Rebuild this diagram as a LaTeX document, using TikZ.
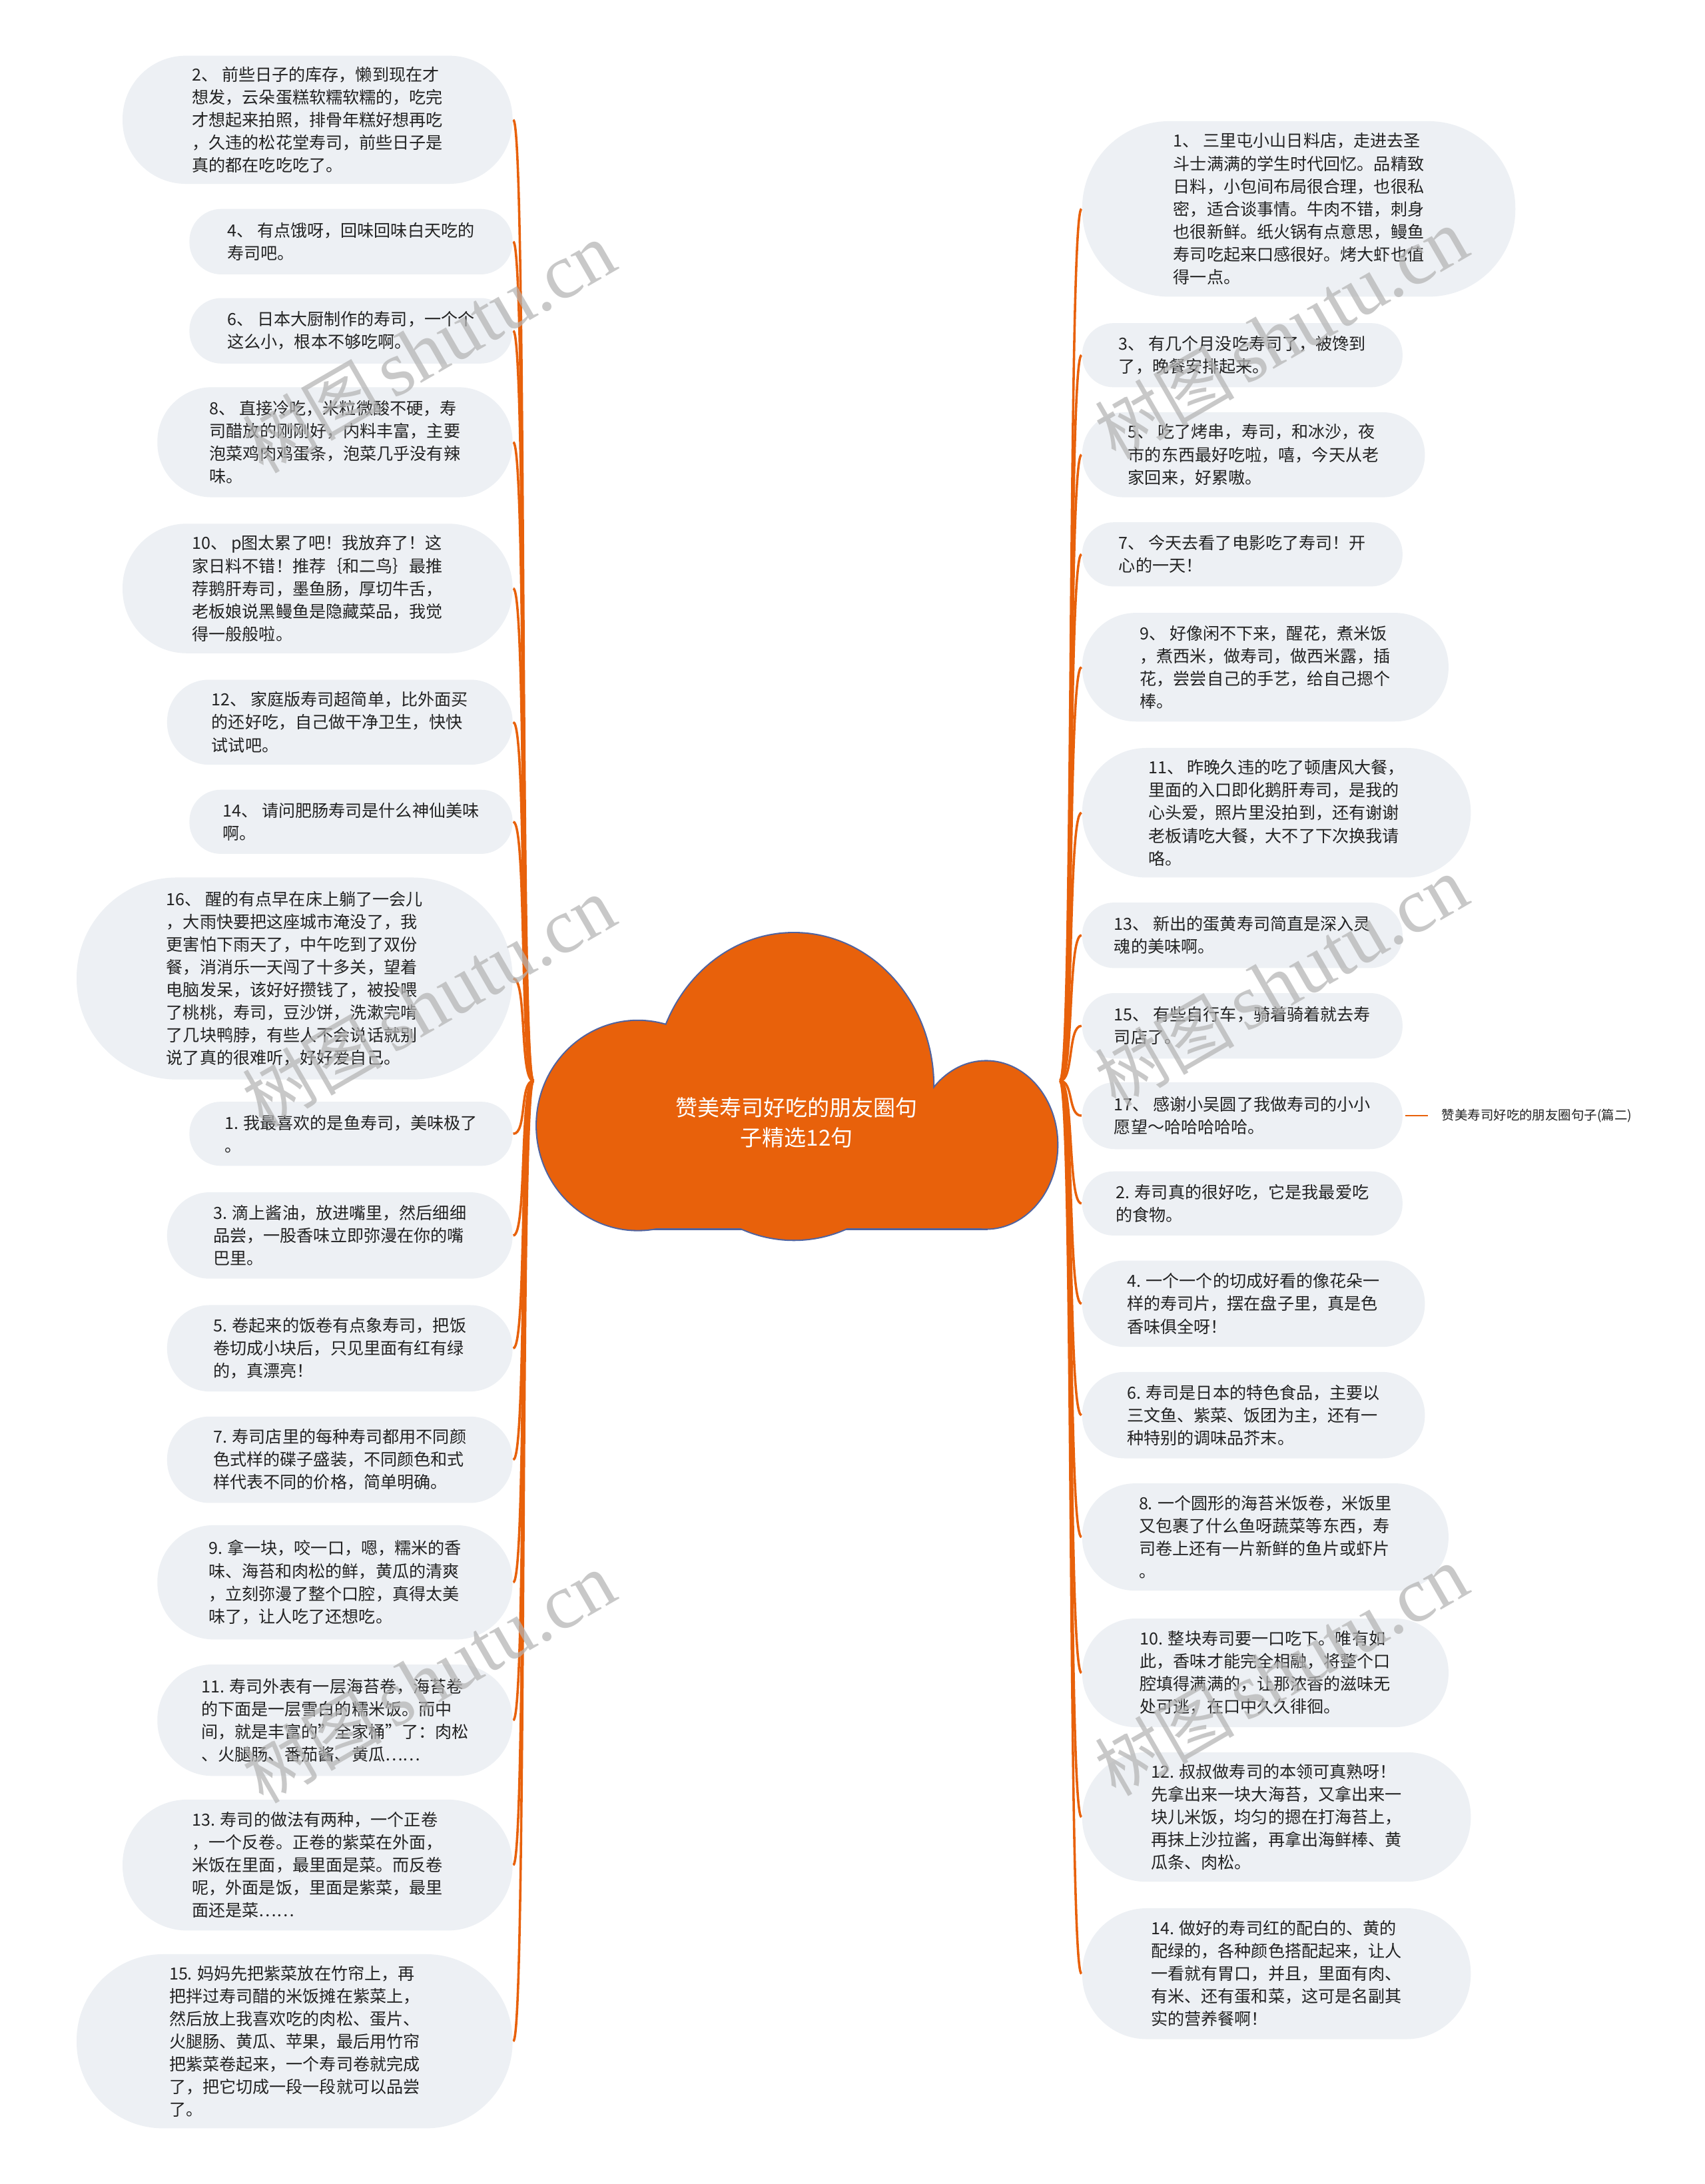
\documentclass[tikz,border=0pt]{standalone}
\usepackage{fontspec}
\setmainfont{Noto Sans CJK SC}
\newfontfamily\wmlatin{Liberation Serif}
\usetikzlibrary{calc}
\definecolor{org}{HTML}{E8610B}
\definecolor{cloudline}{HTML}{4F63A0}
\definecolor{bubfill}{HTML}{EDF0F4}
\definecolor{txtc}{HTML}{222222}
\definecolor{wmc}{HTML}{B4B4B4}
\newcommand\bubble[5]{\node[bub, minimum width=#3pt, minimum height=#4pt, rounded corners=#5pt] (#1) at #2}
\begin{document}
\begin{tikzpicture}[x=1pt,y=-1pt,
  bub/.style={fill=bubfill, inner sep=0pt, align=left, text=txtc, font=\fontsize{12}{16.3}\selectfont},
  conn/.style={draw=org, line width=1.7pt},
  wm/.style={text=wmc, opacity=0.72, rotate=30, inner sep=0pt}]
\useasboundingbox (0,0) rectangle (1224,1568);
\fill[white] (0,0) rectangle (1224,1568);
% ---------- cloud ----------
\draw[cloudline, line width=2pt] (458,808) ellipse [x radius=72.5, y radius=75];
\draw[cloudline, line width=2pt] (570,780) ellipse [x radius=100, y radius=110];
\draw[cloudline, line width=2pt] (708,822) ellipse [x radius=51, y radius=60];
\draw[cloudline, line width=2pt] (458,830) rectangle (708,882);
\fill[org] (458,808) ellipse [x radius=72.5, y radius=75];
\fill[org] (570,780) ellipse [x radius=100, y radius=110];
\fill[org] (708,822) ellipse [x radius=51, y radius=60];
\fill[org] (458,830) rectangle (708,882);
\node[inner sep=0pt, minimum width=374pt, minimum height=212pt] (cloud) at (572,776) {};
\node[align=center, text=white, font=\fontsize{15.8}{21.6}\selectfont] (title) at (572,806) {赞美寿司好吃的朋友圈句\\子精选12句};
\coordinate (rootL) at (383,776);
\coordinate (rootR) at (761,776);
% ---------- connectors ----------
\foreach \n/\cy in {L1/86,L2/173.5,L3/237.5,L4/317.5,L5/422.5,L6/518.5,L7/590,L8/702.5,L9/814,L10/887,L11/968,L12/1048,L13/1136,L14/1235,L15/1339,L16/1465.5}{
  \coordinate (\n e) at (368.5,\cy);
  \draw[conn] (rootL) .. controls ($(rootL)+(-10,0)$) and ($(\n e)+(10,0)$) .. (\n e);
}
\foreach \n/\cy in {R1/150,R2/255,R3/326.5,R4/398,R5/479,R6/583.5,R7/671.5,R8/736.5,R9/801,R10/864,R11/936,R12/1016,R13/1103.5,R14/1201,R15/1304.5,R16/1417}{
  \coordinate (\n w) at (776.5,\cy);
  \draw[conn] (rootR) .. controls ($(rootR)+(10,0)$) and ($(\n w)+(-10,0)$) .. (\n w);
}
% ---------- left bubbles ----------
\bubble{L1}{(228,86)}{280}{92}{45.5} {2、 前些日子的库存，懒到现在才\\想发，云朵蛋糕软糯软糯的，吃完\\才想起来拍照，排骨年糕好想再吃\\，久违的松花堂寿司，前些日子是\\真的都在吃吃吃了。};
\bubble{L2}{(252,173.5)}{232}{47}{23} {4、 有点饿呀，回味回味白天吃的\\寿司吧。};
\bubble{L3}{(252,237.5)}{232}{47}{23} {6、 日本大厨制作的寿司，一个个\\这么小，根本不够吃啊。};
\bubble{L4}{(240.5,317.5)}{255}{79}{39} {8、 直接冷吃，米粒微酸不硬，寿\\司醋放的刚刚好，内料丰富，主要\\泡菜鸡肉鸡蛋条，泡菜几乎没有辣\\味。};
\bubble{L5}{(228,422.5)}{280}{93}{46} {10、 p图太累了吧！我放弃了！这\\家日料不错！推荐｛和二鸟｝最推\\荐鹅肝寿司，墨鱼肠，厚切牛舌，\\老板娘说黑鳗鱼是隐藏菜品，我觉\\得一般般啦。};
\bubble{L6}{(244,518.5)}{248}{61}{30} {12、 家庭版寿司超简单，比外面买\\的还好吃，自己做干净卫生，快快\\试试吧。};
\bubble{L7}{(252,590)}{232}{46}{22.5} {14、 请问肥肠寿司是什么神仙美味\\啊。};
\bubble{L8}{(211.5,702.5)}{313}{145}{72} {16、 醒的有点早在床上躺了一会儿\\，大雨快要把这座城市淹没了，我\\更害怕下雨天了，中午吃到了双份\\餐，消消乐一天闯了十多关，望着\\电脑发呆，该好好攒钱了，被投喂\\了桃桃，寿司，豆沙饼，洗漱完啃\\了几块鸭脖，有些人不会说话就别\\说了真的很难听，好好爱自己。};
\bubble{L9}{(252,814)}{232}{46}{22.5} {1. 我最喜欢的是鱼寿司，美味极了\\。};
\bubble{L10}{(244,887)}{248}{62}{30.5} {3. 滴上酱油，放进嘴里，然后细细\\品尝，一股香味立即弥漫在你的嘴\\巴里。};
\bubble{L11}{(244,968)}{248}{62}{30.5} {5. 卷起来的饭卷有点象寿司，把饭\\卷切成小块后，只见里面有红有绿\\的，真漂亮！};
\bubble{L12}{(244,1048)}{248}{62}{30.5} {7. 寿司店里的每种寿司都用不同颜\\色式样的碟子盛装，不同颜色和式\\样代表不同的价格，简单明确。};
\bubble{L13}{(240.5,1136)}{255}{82}{40.5} {9. 拿一块，咬一口，嗯，糯米的香\\味、海苔和肉松的鲜，黄瓜的清爽\\，立刻弥漫了整个口腔，真得太美\\味了，让人吃了还想吃。};
\bubble{L14}{(240.5,1235)}{255}{80}{39.5} {11. 寿司外表有一层海苔卷，海苔卷\\的下面是一层雪白的糯米饭。而中\\间，就是丰富的"全家桶"了：肉松\\、火腿肠、番茄酱、黄瓜……};
\bubble{L15}{(228,1339)}{280}{94}{46.5} {13. 寿司的做法有两种，一个正卷\\，一个反卷。正卷的紫菜在外面，\\米饭在里面，最里面是菜。而反卷\\呢，外面是饭，里面是紫菜，最里\\面还是菜……};
\bubble{L16}{(211.5,1465.5)}{313}{125}{62} {15. 妈妈先把紫菜放在竹帘上，再\\把拌过寿司醋的米饭摊在紫菜上，\\然后放上我喜欢吃的肉松、蛋片、\\火腿肠、黄瓜、苹果，最后用竹帘\\把紫菜卷起来，一个寿司卷就完成\\了，把它切成一段一段就可以品尝\\了。};
% ---------- right bubbles ----------
\bubble{R1}{(932.5,150)}{311}{126}{62.5} {1、 三里屯小山日料店，走进去圣\\斗士满满的学生时代回忆。品精致\\日料，小包间布局很合理，也很私\\密，适合谈事情。牛肉不错，刺身\\也很新鲜。纸火锅有点意思，鳗鱼\\寿司吃起来口感很好。烤大虾也值\\得一点。};
\bubble{R2}{(892,255)}{230}{46}{22.5} {3、 有几个月没吃寿司了，被馋到\\了，晚餐安排起来。};
\bubble{R3}{(900,326.5)}{246}{61}{30} {5、 吃了烤串，寿司，和冰沙，夜\\市的东西最好吃啦，嘻，今天从老\\家回来，好累嗷。};
\bubble{R4}{(892,398)}{230}{46}{22.5} {7、 今天去看了电影吃了寿司！开\\心的一天！};
\bubble{R5}{(908.5,479)}{263}{78}{38.5} {9、 好像闲不下来，醒花，煮米饭\\，煮西米，做寿司，做西米露，插\\花，尝尝自己的手艺，给自己摁个\\棒。};
\bubble{R6}{(916.5,583.5)}{279}{93}{46} {11、 昨晚久违的吃了顿唐风大餐，\\里面的入口即化鹅肝寿司，是我的\\心头爱，照片里没拍到，还有谢谢\\老板请吃大餐，大不了下次换我请\\咯。};
\bubble{R7}{(892,671.5)}{230}{47}{23} {13、 新出的蛋黄寿司简直是深入灵\\魂的美味啊。};
\bubble{R8}{(892,736.5)}{230}{47}{23} {15、 有些自行车，骑着骑着就去寿\\司店了。};
\bubble{R9}{(892,801)}{230}{48}{23.5} {17、 感谢小吴圆了我做寿司的小小\\愿望～哈哈哈哈哈。};
\bubble{R10}{(892,864)}{230}{46}{22.5} {2. 寿司真的很好吃，它是我最爱吃\\的食物。};
\bubble{R11}{(900,936)}{246}{62}{30.5} {4. 一个一个的切成好看的像花朵一\\样的寿司片，摆在盘子里，真是色\\香味俱全呀！};
\bubble{R12}{(900,1016)}{246}{62}{30.5} {6. 寿司是日本的特色食品，主要以\\三文鱼、紫菜、饭团为主，还有一\\种特别的调味品芥末。};
\bubble{R13}{(908.5,1103.5)}{263}{77}{38} {8. 一个圆形的海苔米饭卷，米饭里\\又包裹了什么鱼呀蔬菜等东西，寿\\司卷上还有一片新鲜的鱼片或虾片\\。};
\bubble{R14}{(908.5,1201)}{263}{78}{38.5} {10. 整块寿司要一口吃下。唯有如\\此，香味才能完全相融，将整个口\\腔填得满满的，让那浓香的滋味无\\处可逃，在口中久久徘徊。};
\bubble{R15}{(916.5,1304.5)}{279}{93}{46} {12. 叔叔做寿司的本领可真熟呀！\\先拿出来一块大海苔，又拿出来一\\块儿米饭，均匀的摁在打海苔上，\\再抹上沙拉酱，再拿出海鲜棒、黄\\瓜条、肉松。};
\bubble{R16}{(916.5,1417)}{279}{94}{46.5} {14. 做好的寿司红的配白的、黄的\\配绿的，各种颜色搭配起来，让人\\一看就有胃口，并且，里面有肉、\\有米、还有蛋和菜，这可是名副其\\实的营养餐啊！};
% ---------- side label ----------
\node[anchor=west, inner sep=0pt, text=txtc, font=\fontsize{9.3}{11}\selectfont] (side) at (1035,801) {赞美寿司好吃的朋友圈句子(篇二)};
\draw[conn, line width=1.3pt, shorten <=2pt, shorten >=10pt] (R9.east) -- (side.west);
% ---------- watermarks ----------
\foreach \p [count=\i] in {(308,250),(308,720),(308,1205),(920,240),(920,705),(920,1200)}{
  \node[wm] (wm\i) at \p {{\fontsize{50}{50}\selectfont 树图}\hspace{8pt}{\wmlatin\fontsize{56}{56}\selectfont shutu.cn}};
}
\end{tikzpicture}
\end{document}
